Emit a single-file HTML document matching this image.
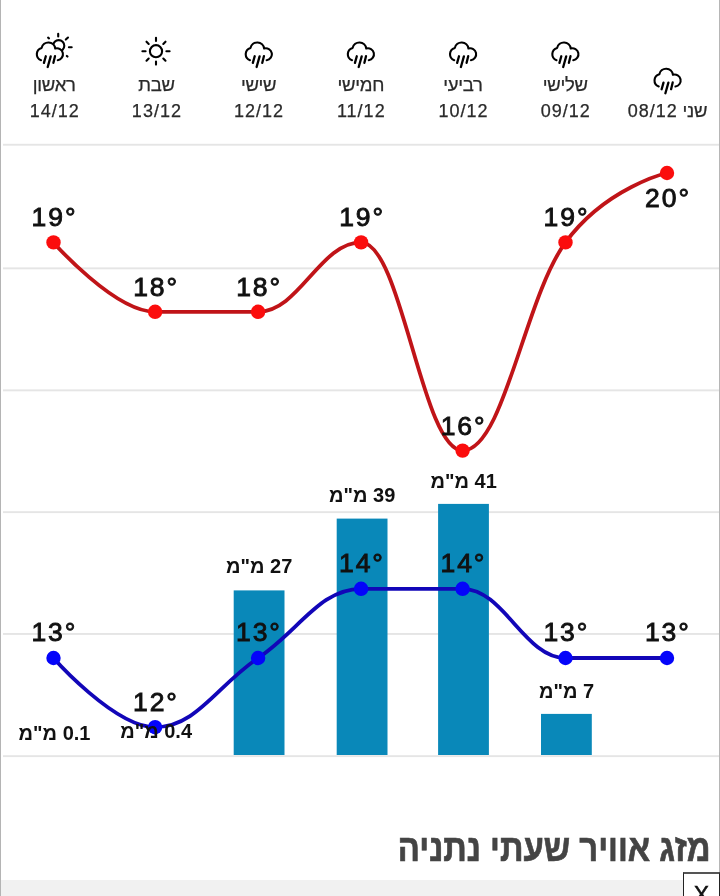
<!DOCTYPE html>
<html lang="he"><head><meta charset="utf-8"><title>מזג אוויר</title>
<style>
html,body{margin:0;padding:0;background:#fff;}
body{width:720px;height:896px;position:relative;overflow:hidden;font-family:"Liberation Sans","DejaVu Sans",sans-serif;color:#222;}
.bl{position:absolute;left:0;top:0;width:1px;height:896px;background:#b4b4b4;}
.br{position:absolute;left:719px;top:0;width:1px;height:896px;background:#b6b6b6;}
.chart{position:absolute;left:0;top:0;}
.day,.date,.t,.mm{position:absolute;white-space:nowrap;text-align:center;transform:translateX(-50%);}
.day{font-size:18.5px;line-height:26px;color:#2a2a2a;top:72px;direction:rtl;letter-spacing:-.3px;-webkit-text-stroke:.25px #2a2a2a;}
.date{font-size:18px;line-height:26px;color:#2a2a2a;top:97.5px;letter-spacing:1px;padding-left:1px;-webkit-text-stroke:.25px #2a2a2a;}
.one{top:97.5px;}
.t{font-size:26.5px;line-height:28px;font-weight:normal;color:#111;letter-spacing:1.9px;-webkit-text-stroke:.9px #111;}
.mm{font-size:20px;line-height:22px;font-weight:bold;color:#111;direction:rtl;letter-spacing:0;}
.title{position:absolute;right:10px;-webkit-text-stroke:.7px #444;top:826px;font-size:38px;line-height:44px;font-weight:bold;color:#444;direction:rtl;white-space:nowrap;transform:scaleX(.8626);transform-origin:100% 50%;}
.bar{position:absolute;left:1px;top:880px;width:683px;height:16px;background:#f1f1f1;}
.xbox{position:absolute;left:683px;top:872px;width:37px;height:30px;border:1px solid #222;border-top:2px solid #555;background:#fff;box-sizing:border-box;}
.xbox span{position:absolute;left:9.8px;top:8px;font-size:23px;line-height:26px;color:#111;-webkit-text-stroke:.5px #111;}
</style></head><body>
<div class="bl"></div><div class="br"></div>

<svg class="chart" width="720" height="896" viewBox="0 0 720 896">
<rect x="3" y="143.8" width="716" height="1.9" fill="#e5e5e5"/>
<rect x="3" y="267.4" width="716" height="1.9" fill="#e5e5e5"/>
<rect x="3" y="389.4" width="716" height="1.9" fill="#e5e5e5"/>
<rect x="3" y="511.2" width="716" height="1.9" fill="#e5e5e5"/>
<rect x="3" y="633.0" width="716" height="1.9" fill="#e5e5e5"/>
<rect x="3" y="755.2" width="716" height="1.9" fill="#e5e5e5"/>
<rect x="233.7" y="590.4" width="50.8" height="164.6" fill="#0988b9"/>
<rect x="336.7" y="518.6" width="50.8" height="236.4" fill="#0988b9"/>
<rect x="438.1" y="503.9" width="50.8" height="251.1" fill="#0988b9"/>
<rect x="541.0" y="713.9" width="50.8" height="41.1" fill="#0988b9"/>
<path d="M 53.50 242.40 C 53.50 242.40 114.46 311.80 155.10 311.80 C 196.32 311.80 216.93 311.80 258.15 311.80 C 299.33 311.80 319.92 242.40 361.10 242.40 C 401.70 242.40 422.00 450.60 462.60 450.60 C 503.76 450.60 524.34 298.30 565.50 242.40 C 606.10 187.26 667.00 173.00 667.00 173.00" fill="none" stroke="#c01418" stroke-width="3.8" stroke-linecap="round"/>
<circle cx="53.5" cy="242.4" r="7.2" fill="#fb0d0d"/>
<circle cx="155.1" cy="311.8" r="7.2" fill="#fb0d0d"/>
<circle cx="258.1" cy="311.8" r="7.2" fill="#fb0d0d"/>
<circle cx="361.1" cy="242.4" r="7.2" fill="#fb0d0d"/>
<circle cx="462.6" cy="450.6" r="7.2" fill="#fb0d0d"/>
<circle cx="565.5" cy="242.4" r="7.2" fill="#fb0d0d"/>
<circle cx="667.0" cy="173.0" r="7.2" fill="#fb0d0d"/>
<path d="M 53.50 658.00 C 53.50 658.00 114.46 727.20 155.10 727.20 C 196.32 727.20 216.93 685.69 258.15 658.00 C 299.33 630.33 319.92 588.80 361.10 588.80 C 401.70 588.80 422.00 588.80 462.60 588.80 C 503.76 588.80 524.34 658.00 565.50 658.00 C 606.10 658.00 667.00 658.00 667.00 658.00" fill="none" stroke="#1206b8" stroke-width="3.8" stroke-linecap="round"/>
<circle cx="53.5" cy="658.0" r="7.2" fill="#0404fa"/>
<circle cx="155.1" cy="727.2" r="7.2" fill="#0404fa"/>
<circle cx="258.1" cy="658.0" r="7.2" fill="#0404fa"/>
<circle cx="361.1" cy="588.8" r="7.2" fill="#0404fa"/>
<circle cx="462.6" cy="588.8" r="7.2" fill="#0404fa"/>
<circle cx="565.5" cy="658.0" r="7.2" fill="#0404fa"/>
<circle cx="667.0" cy="658.0" r="7.2" fill="#0404fa"/>
</svg>
<svg class="chart" width="720" height="896" viewBox="0 0 720 896">
<g transform="translate(54.4 55.0)"><g fill="none" stroke="#000" stroke-width="2.1" stroke-linecap="round" stroke-linejoin="round">
<g transform="translate(-4.5 0)">
<circle cx="8.8" cy="-9.3" r="5.6"/>
<path d="M8.3 -21.3V-18.5M15.9 -15.4L18.1 -17.5M19 -7.7H21.8M16.9 0.9L17.6 1.6M-1.8 -17.3L-0.9 -16.6"/>
<path d="M-8.85 5.2 A6.45 6.45 0 0 1 -8.25 -7.1 A6.9 6.9 0 0 1 5.35 -6.5 A6 6 0 1 1 7.85 5.2" fill="#fff"/>
<path d="M-4.1 1.3 L-5.95 7.9 M0.8 1.35 L-2.2 11.95 M5.1 1.15 L3.5 7.85" stroke-width="2.3"/>
</g></g></g>
<g transform="translate(156.0 51.2)"><g fill="none" stroke="#000" stroke-width="2.1" stroke-linecap="round">
<circle cx="0" cy="0" r="6.1"/>
<path d="M0 -10.3V-13.4M0 10.3V13.4M-10.4 0H-13.6M10.4 0H13.6M-7.3 -7.3L-9.5 -9.5M7.3 -7.3L9.5 -9.5M-7.3 7.3L-9.5 9.5M7.3 7.3L9.5 9.5"/>
</g></g>
<g transform="translate(258.8 55.0)"><g fill="none" stroke="#000" stroke-width="2.1" stroke-linecap="round" stroke-linejoin="round">
<path d="M-8.85 5.2 A6.45 6.45 0 0 1 -8.25 -7.1 A6.9 6.9 0 0 1 5.35 -6.5 A6 6 0 1 1 7.85 5.2"/>
<path d="M-4.1 1.3 L-5.95 7.9 M0.8 1.35 L-2.2 11.95 M5.1 1.15 L3.5 7.85" stroke-width="2.3"/>
</g></g>
<g transform="translate(360.9 55.0)"><g fill="none" stroke="#000" stroke-width="2.1" stroke-linecap="round" stroke-linejoin="round">
<path d="M-8.85 5.2 A6.45 6.45 0 0 1 -8.25 -7.1 A6.9 6.9 0 0 1 5.35 -6.5 A6 6 0 1 1 7.85 5.2"/>
<path d="M-4.1 1.3 L-5.95 7.9 M0.8 1.35 L-2.2 11.95 M5.1 1.15 L3.5 7.85" stroke-width="2.3"/>
</g></g>
<g transform="translate(463.1 55.0)"><g fill="none" stroke="#000" stroke-width="2.1" stroke-linecap="round" stroke-linejoin="round">
<path d="M-8.85 5.2 A6.45 6.45 0 0 1 -8.25 -7.1 A6.9 6.9 0 0 1 5.35 -6.5 A6 6 0 1 1 7.85 5.2"/>
<path d="M-4.1 1.3 L-5.95 7.9 M0.8 1.35 L-2.2 11.95 M5.1 1.15 L3.5 7.85" stroke-width="2.3"/>
</g></g>
<g transform="translate(565.4 55.0)"><g fill="none" stroke="#000" stroke-width="2.1" stroke-linecap="round" stroke-linejoin="round">
<path d="M-8.85 5.2 A6.45 6.45 0 0 1 -8.25 -7.1 A6.9 6.9 0 0 1 5.35 -6.5 A6 6 0 1 1 7.85 5.2"/>
<path d="M-4.1 1.3 L-5.95 7.9 M0.8 1.35 L-2.2 11.95 M5.1 1.15 L3.5 7.85" stroke-width="2.3"/>
</g></g>
<g transform="translate(667.6 81.3)"><g fill="none" stroke="#000" stroke-width="2.1" stroke-linecap="round" stroke-linejoin="round">
<path d="M-8.85 5.2 A6.45 6.45 0 0 1 -8.25 -7.1 A6.9 6.9 0 0 1 5.35 -6.5 A6 6 0 1 1 7.85 5.2"/>
<path d="M-4.1 1.3 L-5.95 7.9 M0.8 1.35 L-2.2 11.95 M5.1 1.15 L3.5 7.85" stroke-width="2.3"/>
</g></g>
</svg>
<div class="day" style="left:54.2px">ראשון</div>
<div class="date" style="left:54.2px">14/12</div>
<div class="day" style="left:156.4px">שבת</div>
<div class="date" style="left:156.4px">13/12</div>
<div class="day" style="left:258.6px">שישי</div>
<div class="date" style="left:258.6px">12/12</div>
<div class="day" style="left:360.8px">חמישי</div>
<div class="date" style="left:360.8px">11/12</div>
<div class="day" style="left:463.0px">רביעי</div>
<div class="date" style="left:463.0px">10/12</div>
<div class="day" style="left:565.2px">שלישי</div>
<div class="date" style="left:565.2px">09/12</div>
<div class="day one" style="left:667.4px">שני <span style="letter-spacing:1px;font-size:18px">08/12</span></div>
<div class="t" style="left:54.5px;top:203.4px">19°</div>
<div class="t" style="left:156.1px;top:272.8px">18°</div>
<div class="t" style="left:259.1px;top:272.8px">18°</div>
<div class="t" style="left:362.1px;top:203.4px">19°</div>
<div class="t" style="left:463.6px;top:411.6px">16°</div>
<div class="t" style="left:566.5px;top:203.4px">19°</div>
<div class="t" style="left:668.0px;top:184.0px">20°</div>
<div class="t" style="left:54.3px;top:618.4px">13°</div>
<div class="t" style="left:155.9px;top:687.6px">12°</div>
<div class="t" style="left:258.9px;top:618.4px">13°</div>
<div class="t" style="left:361.9px;top:549.2px">14°</div>
<div class="t" style="left:463.4px;top:549.2px">14°</div>
<div class="t" style="left:566.3px;top:618.4px">13°</div>
<div class="t" style="left:667.8px;top:618.4px">13°</div>
<div class="mm" style="left:54.5px;top:722px">0.1 מ"מ</div>
<div class="mm" style="left:156.1px;top:720px">0.4 מ"מ</div>
<div class="mm" style="left:259.1px;top:555px">27 מ"מ</div>
<div class="mm" style="left:362.1px;top:484px">39 מ"מ</div>
<div class="mm" style="left:463.6px;top:470px">41 מ"מ</div>
<div class="mm" style="left:566.5px;top:680px">7 מ"מ</div>
<div class="title">מזג אוויר שעתי נתניה</div>
<div class="bar"></div><div class="xbox"><span>X</span></div>
</body></html>
